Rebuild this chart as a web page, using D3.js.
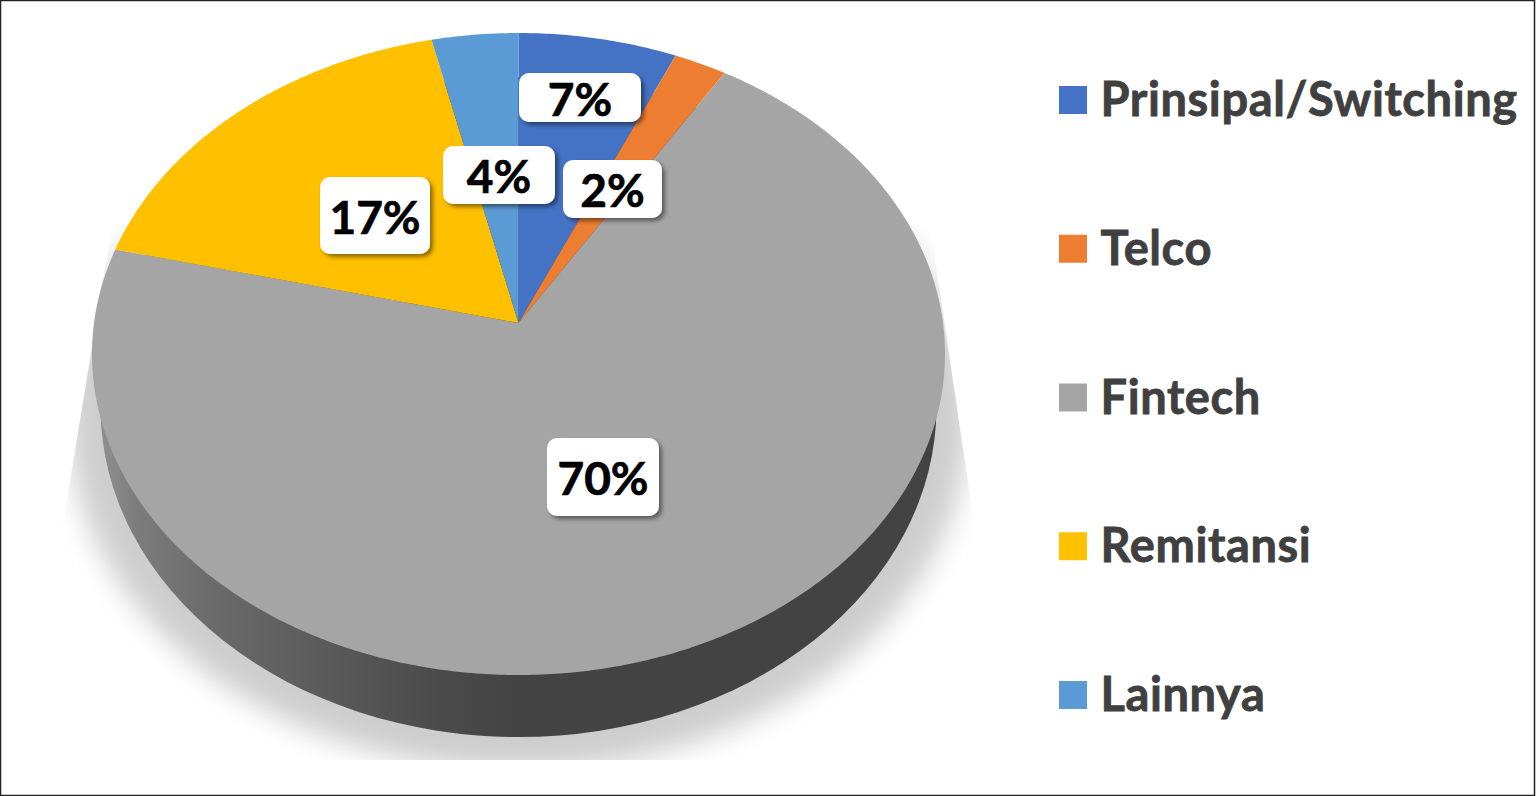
<!DOCTYPE html>
<html>
<head>
<meta charset="utf-8">
<script src="https://cdn.jsdelivr.net/npm/d3@7"></script>
<style>
    body { margin: 0; background: #fff; }
    svg { display: block; }
    text { font-family: Lato, Carlito, sans-serif; font-weight: 700; }
</style>
</head>
<body>
<div class="canvas"></div>
<script>
// data
const categories = ['Prinsipal/Switching', 'Telco', 'Fintech', 'Remitansi', 'Lainnya'];
const values = [6.6, 2.2, 70, 17.6, 3.6];
const valueLabels = ['7%', '2%', '70%', '17%', '4%'];
const colors = ['#4472c4', '#ed7d31', '#a5a5a5', '#ffc000', '#5b9bd5'];

// label boxes are placed by hand in the original, same order as categories
const labelBoxes = [
    { x: 519, y: 73, w: 122, h: 49 },
    { x: 563, y: 160, w: 99, h: 58 },
    { x: 547, y: 438, w: 112, h: 78 },
    { x: 320, y: 177, w: 110, h: 77 },
    { x: 443, y: 146, w: 112, h: 58 }
];

const width = 1536;
const height = 796;

const svg = d3.select('.canvas')
                .append('svg')
                .attr('width', width)
                .attr('height', height);

const defs = svg.append('defs');

defs.append('filter')
    .attr('id', 'blur')
    .attr('x', '-10%').attr('y', '-10%')
    .attr('width', '120%').attr('height', '120%')
    .append('feGaussianBlur')
    .attr('stdDeviation', 14);

defs.append('filter')
    .attr('id', 'boxShadow')
    .attr('x', '-20%').attr('y', '-20%')
    .attr('width', '140%').attr('height', '140%')
    .append('feDropShadow')
    .attr('dx', 3).attr('dy', 3)
    .attr('stdDeviation', 2)
    .attr('flood-color', '#000')
    .attr('flood-opacity', 0.45);

// floor shadow is cut off by a trapezoid
defs.append('clipPath')
    .attr('id', 'shadowClip')
    .append('polygon')
    .attr('points', '112,225 62,530 62,760 975,760 975,530 930,225');

const wallGradient = defs.append('linearGradient')
    .attr('id', 'wallGradient')
    .attr('gradientUnits', 'userSpaceOnUse')
    .attr('x1', 95).attr('x2', 520)
    .attr('y1', 0).attr('y2', 0);
[[0, '#929292'], [0.1, '#7c7c7c'], [0.3, '#696969'], [0.55, '#5a5a5a'], [0.8, '#4b4b4b'], [1, '#434343']]
    .forEach(s => wallGradient.append('stop').attr('offset', s[0]).attr('stop-color', s[1]));

// floor shadow
svg.append('g')
    .attr('clip-path', 'url(#shadowClip)')
    .append('ellipse')
    .attr('cx', 518.5).attr('cy', 420)
    .attr('rx', 450).attr('ry', 350)
    .attr('fill', '#cdcdcd')
    .attr('filter', 'url(#blur)');

// side wall, only the big slice shows it
svg.append('ellipse')
    .attr('cx', 518.5).attr('cy', 407)
    .attr('rx', 418).attr('ry', 330)
    .attr('fill', 'url(#wallGradient)');

// tilted disc: unit circle through a perspective projection
const tilt = { cx: 518.5, cy: 323, a: 424.5, b: 318, k: 0.0966 };
const project = (angle, r) => {
    const u = r * Math.sin(angle);
    const v = -r * Math.cos(angle);
    const w = 1 - tilt.k * v;
    return [tilt.cx + tilt.a * u / w, tilt.cy + tilt.b * v / w];
};

const pie = d3.pie().sort(null).value(d => d.value);
const slices = pie(categories.map((name, i) => ({ name, value: values[i], color: colors[i], label: valueLabels[i] })));

const slicePath = d => {
    const steps = Math.max(2, Math.ceil((d.endAngle - d.startAngle) / 0.01));
    const angle = d3.scaleLinear().domain([0, steps]).range([d.startAngle, d.endAngle]);
    const rim = d3.range(steps + 1).map(i => project(angle(i), 1));
    return d3.line()([project(0, 0), ...rim]) + 'Z';
};

svg.append('g')
    .selectAll('path')
    .data(slices)
    .enter()
    .append('path')
    .attr('d', slicePath)
    .attr('fill', d => d.data.color);

// data labels
const labels = svg.append('g')
    .selectAll('g')
    .data(slices)
    .enter()
    .append('g');

labels.append('rect')
    .attr('x', (d, i) => labelBoxes[i].x)
    .attr('y', (d, i) => labelBoxes[i].y)
    .attr('width', (d, i) => labelBoxes[i].w)
    .attr('height', (d, i) => labelBoxes[i].h)
    .attr('rx', 10)
    .attr('fill', '#fff')
    .attr('filter', 'url(#boxShadow)');

labels.append('text')
    .attr('x', (d, i) => labelBoxes[i].x + labelBoxes[i].w / 2)
    .attr('y', (d, i) => labelBoxes[i].y + labelBoxes[i].h / 2 + 18)
    .attr('text-anchor', 'middle')
    .attr('font-size', 46)
    .attr('fill', '#000')
    .attr('stroke', '#000')
    .attr('stroke-width', 0.7)
    .text(d => d.data.label);

// legend
const legendY = d3.scalePoint()
    .domain(categories)
    .range([100, 695]);

const legend = svg.append('g')
    .selectAll('g')
    .data(categories)
    .enter()
    .append('g')
    .attr('transform', d => `translate(1059, ${legendY(d)})`);

legend.append('rect')
    .attr('y', -14)
    .attr('width', 28)
    .attr('height', 28)
    .attr('fill', (d, i) => colors[i]);

legend.append('text')
    .attr('x', 41.5)
    .attr('y', 16)
    .attr('font-size', 47)
    .attr('letter-spacing', 0.6)
    .attr('fill', '#404040')
    .attr('stroke', '#404040')
    .attr('stroke-width', 0.8)
    .text(d => d);

// frame
svg.append('rect')
    .attr('x', 0.5).attr('y', 0.5)
    .attr('width', width - 2).attr('height', height - 1)
    .attr('fill', 'none')
    .attr('stroke', '#222')
    .attr('stroke-width', 1.5);
</script>
</body>
</html>
